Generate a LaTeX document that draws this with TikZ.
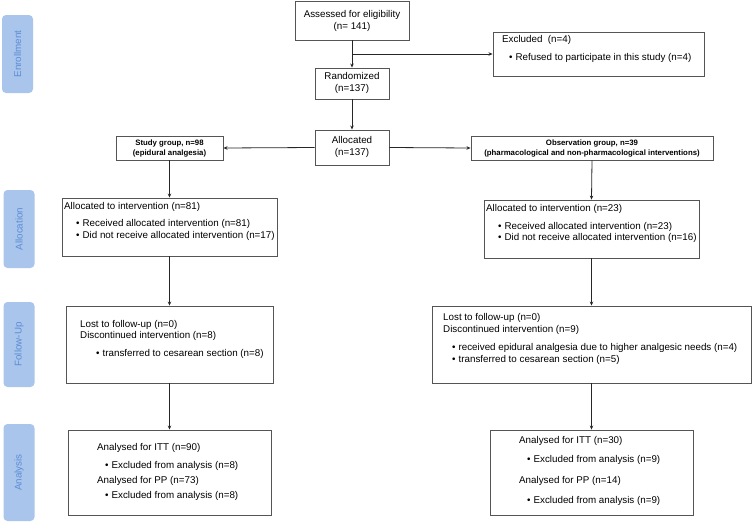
\documentclass[tikz,border=0pt]{standalone}
\usepackage{fontspec}
\setmainfont{Liberation Sans}
\usetikzlibrary{arrows.meta}
\definecolor{lblfill}{HTML}{A9C5EC}
\definecolor{lbltext}{HTML}{5C8CD4}
\definecolor{boxline}{HTML}{555555}
\newcommand{\bul}{\textbullet\hspace{3pt}}
\begin{document}
\begin{tikzpicture}[x=1pt,y=-1pt,
  box/.style={draw=boxline, line width=0.9pt, rectangle, inner sep=0pt},
  side/.style={fill=lblfill, rounded corners=4pt, inner sep=0pt, minimum width=31pt},
  sidetxt/.style={text=lbltext, rotate=90, font=\fontsize{9.8}{10}\selectfont, inner sep=0pt},
  txt/.style={anchor=west, inner sep=0pt, font=\fontsize{9.8}{11}\selectfont},
  ctxt/.style={inner sep=0pt, align=center, font=\fontsize{9.8}{12}\selectfont},
  btxt/.style={inner sep=0pt, align=center, font=\fontsize{7.8}{9.8}\selectfont\bfseries},
  arr/.style={-{Stealth[length=4pt,width=3.5pt]}, line width=0.8pt, draw=black!85}
]
\useasboundingbox (0,0) rectangle (752,522);

% side labels
\node[side, minimum height=78pt] (lenr) at (17.5,54) {};
\node[sidetxt] (tenr) at (lenr.center) {Enrollment};
\node[side, minimum height=78pt] (lall) at (19,229) {};
\node[sidetxt] (tall) at (lall.center) {Allocation};
\node[side, minimum height=85pt] (lfol) at (19,344.5) {};
\node[sidetxt] (tfol) at (lfol.center) {Follow-Up};
\node[side, minimum height=97pt] (lana) at (19,472.5) {};
\node[sidetxt] (tana) at (lana.center) {Analysis};

% top boxes
\node[box, minimum width=114pt, minimum height=39pt] (assess) at (352,20.5) {};
\node[ctxt] (assesst) at (352,20.5) {Assessed for eligibility\\(n= 141)};
\node[box, minimum width=74pt, minimum height=31pt] (rand) at (352,83.5) {};
\node[ctxt] (randt) at (352,83) {Randomized\\(n=137)};
\node[box, minimum width=74pt, minimum height=35pt] (alloc) at (352,147.5) {};
\node[ctxt] (alloct) at (352,146.5) {Allocated\\(n=137)};
\node[box, minimum width=211pt, minimum height=44pt] (excl) at (598.5,54) {};
\node[txt] (exclt1) at (502,39.5) {Excluded\ \ (n=4)};
\node[txt] (exclt2) at (509,58) {\bul Refused to participate in this study (n=4)};

% group boxes
\node[box, minimum width=107pt, minimum height=24pt] (study) at (169.5,148) {};
\node[btxt] (studyt) at (169.5,148.5) {Study group, n=98\\(epidural analgesia)};
\node[box, minimum width=242pt, minimum height=24pt] (obs) at (592,148) {};
\node[btxt] (obst) at (592,148.5) {Observation group, n=39\\(pharmacological and non-pharmacological interventions)};

% allocation
\node[box, minimum width=215pt, minimum height=58pt] (la) at (169.5,227) {};
\node[txt] (lat1) at (64,207) {Allocated to intervention (n=81)};
\node[txt] (lat2) at (76,224) {\bul Received allocated intervention (n=81)};
\node[txt] (lat3) at (76,236) {\bul Did not receive allocated intervention (n=17)};
\node[box, minimum width=215pt, minimum height=58pt] (ra) at (591.5,229) {};
\node[txt] (rat1) at (486,208.5) {Allocated to intervention (n=23)};
\node[txt] (rat2) at (498,226.5) {\bul Received allocated intervention (n=23)};
\node[txt] (rat3) at (498,238) {\bul Did not receive allocated intervention (n=16)};

% follow-up
\node[box, minimum width=207pt, minimum height=77pt] (lf) at (169.5,344.5) {};
\node[txt] (lft1) at (80,325) {Lost to follow-up (n=0)};
\node[txt] (lft2) at (80,336) {Discontinued intervention (n=8)};
\node[txt] (lft3) at (96,354) {\bul transferred to cesarean section (n=8)};
\node[box, minimum width=319pt, minimum height=77pt] (rf) at (591.5,344.5) {};
\node[txt] (rft1) at (443,318) {Lost to follow-up (n=0)};
\node[txt] (rft2) at (443,330) {Discontinued intervention (n=9)};
\node[txt] (rft3) at (452,348) {\bul received epidural analgesia due to higher analgesic needs (n=4)};
\node[txt] (rft4) at (452,360) {\bul transferred to cesarean section (n=5)};

% analysis
\node[box, minimum width=203pt, minimum height=85pt] (lan) at (169.5,472.5) {};
\node[txt] (lant1) at (97,448) {Analysed for ITT (n=90)};
\node[txt] (lant2) at (105,466) {\bul Excluded from analysis (n=8)};
\node[txt] (lant3) at (97,481) {Analysed for PP (n=73)};
\node[txt] (lant4) at (105,496) {\bul Excluded from analysis (n=8)};
\node[box, minimum width=203pt, minimum height=85pt] (ran) at (591.5,472.5) {};
\node[txt] (rant1) at (519,441) {Analysed for ITT (n=30)};
\node[txt] (rant2) at (527,460) {\bul Excluded from analysis (n=9)};
\node[txt] (rant3) at (519,481) {Analysed for PP (n=14)};
\node[txt] (rant4) at (527,501) {\bul Excluded from analysis (n=9)};

% connectors
\draw[arr] (assess.south) -- (rand.north);
\coordinate (br) at (assess.south |- excl.west);
\draw[arr] (br) -- (excl.west);
\draw[arr] (rand.south) -- (alloc.north);
\draw[arr] (alloc.west) -- (study.east);
\draw[arr] (alloc.east) -- (obs.west);
\draw[arr] (study.south) -- (la.north);
\draw[arr] (obs.south) -- (ra.north);
\draw[arr] (la.south) -- (lf.north);
\draw[arr] (ra.south) -- (rf.north);
\draw[arr] (lf.south) -- (lan.north);
\draw[arr] (rf.south) -- (ran.north);
\end{tikzpicture}
\end{document}
